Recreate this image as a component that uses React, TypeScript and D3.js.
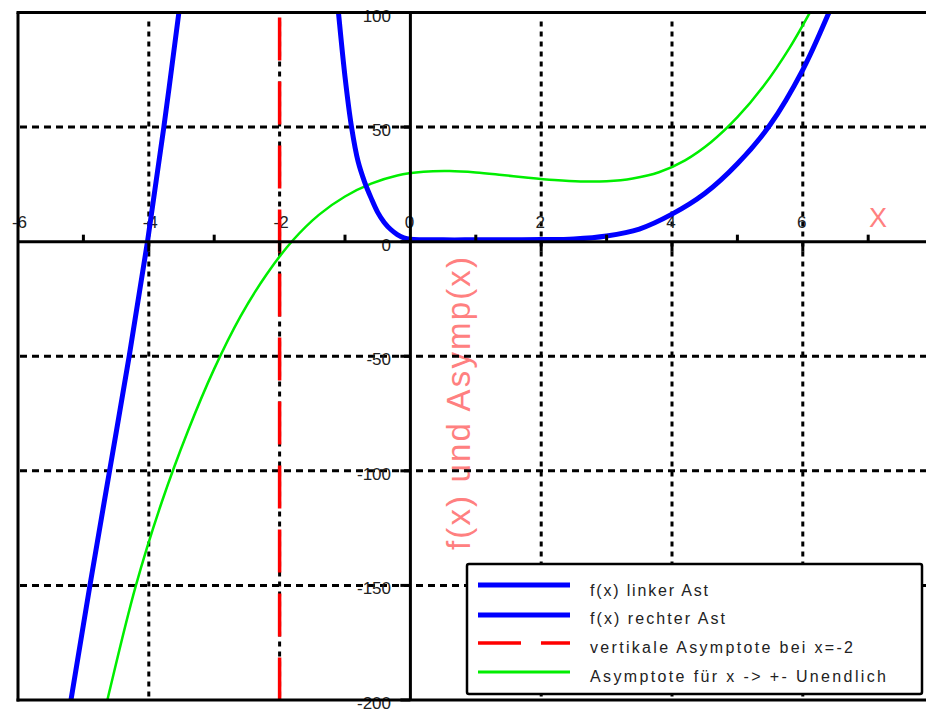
import React from 'react';
import * as d3 from 'd3';

// f(x), linker Ast (links der Polstelle x=-2)
const leftBranchX = [-5.32, -5.19, -4.9, -4.6, -4.3, -4.02, -3.77, -3.54, -3.44];
const leftBranchY = [-222, -200, -150, -100, -50, 0, 50, 100, 122];

// f(x), rechter Ast
const rightBranchX = [-1.15, -1.1, -1.0, -0.9, -0.8, -0.7, -0.6, -0.5, -0.4, -0.3, -0.2, -0.1, 0, 0.5, 1.0, 1.5, 2.0, 2.5, 3.0, 3.5, 4.0, 4.5, 5.0, 5.5, 6.0, 6.4, 6.6];
const rightBranchY = [115, 100, 72, 50, 35, 26, 19, 12.8, 8.4, 5.3, 3.1, 1.7, 1.1, 0.8, 0.8, 0.8, 0.9, 1.2, 2.5, 5.5, 12, 21, 34, 51, 75, 100, 114];

// Asymptote fuer x -> +- unendlich
const asymX = [-4.8, -4.6, -4.2, -3.8, -3.4, -3.0, -2.6, -2.2, -1.8, -1.4, -1.0, -0.6, -0.2, 0.2, 0.6, 1.0, 1.4, 1.8, 2.2, 2.6, 3.0, 3.4, 3.8, 4.2, 4.6, 5.0, 5.4, 5.8, 6.2, 6.4];
const asymY = [-221, -196, -150.3, -113.5, -82.5, -55.5, -32.7, -14.3, 0.5, 11.7, 19.7, 25.3, 28.9, 30.5, 30.8, 30.2, 29.1, 27.9, 26.9, 26.3, 26.4, 27.6, 30.3, 35.5, 43.5, 54.3, 67.9, 84.7, 104.7, 115];

const poleX = -2;

const xTicksMajor = [-6, -4, -2, 0, 2, 4, 6];
const xTicksMinor = [-5, -3, -1, 1, 3, 5, 7];
const xGrid = [-4, -2, 2, 4, 6];
const yTicks = [100, 50, 0, -50, -100, -150, -200];
const yGrid = [50, -50, -100, -150];

const legendLabels = [
  'f(x) linker Ast',
  'f(x) rechter Ast',
  'vertikale Asymptote bei x=-2',
  'Asymptote für x -> +- Unendlich',
];
const legendWidths = [118, 135, 263, 296];

const W = 926;
const H = 711;
const FONT = 'Liberation Sans, Arial, sans-serif';

export default function App() {
  const x = d3.scaleLinear().domain([-6, 8]).range([18, 933.6]);
  const y = d3.scaleLinear().domain([-200, 100]).range([700, 12.5]);

  const line = d3
    .line<[number, number]>()
    .x((d) => x(d[0]))
    .y((d) => y(d[1]))
    .curve(d3.curveCatmullRom.alpha(0.5));

  const zip = (xs: number[], ys: number[]) => xs.map((v, i) => [v, ys[i]] as [number, number]);

  const left = x(-6);
  const top = y(100);
  const bottom = y(-200);
  const x0 = x(0);
  const y0 = y(0);

  const legendColors = ['#0000ff', '#0000ff', '#ff0000', '#00ee00'];
  const legendStroke = [5, 5, 3.5, 3];
  const legendLineY = [585, 615, 643, 672];
  const legendTextY = [596, 624, 653, 682];

  return (
    <svg width={W} height={H} style={{ position: 'fixed', left: 0, top: 0, background: '#fff' }} fontFamily={FONT}>
      <defs>
        <clipPath id="plot">
          <rect x={left} y={top} width={W - left} height={bottom - top} />
        </clipPath>
      </defs>

      {/* axis titles (under the grid) */}
      <text x={878} y={227} fontSize={27} fill="#ff8080" textAnchor="middle">X</text>
      <text
        transform={`translate(470, 403.5) rotate(-90)`}
        fontSize={33}
        fill="#ff8080"
        textAnchor="middle"
        textLength={293}
        lengthAdjust="spacing"
      >
        {'f(x)  und  Asymp(x)'}
      </text>

      {/* grid */}
      {yGrid.map((v) => (
        <line key={'hy' + v} x1={left + 2} x2={W} y1={y(v)} y2={y(v)} stroke="#000" strokeWidth={3} strokeDasharray="7,5" />
      ))}
      {xGrid.map((v) => (
        <line key={'vx' + v} x1={x(v)} x2={x(v)} y1={top + 9} y2={bottom} stroke="#000" strokeWidth={3} strokeDasharray="5,5" />
      ))}

      {/* tick labels */}
      {xTicksMajor.map((v) => (
        <text
          key={'xl' + v}
          x={v < 0 ? x(v) + 9 : x(v) - 1}
          y={228}
          fontSize={17}
          fill="#222"
          textAnchor={v < 0 ? 'end' : 'middle'}
        >
          {String(v)}
        </text>
      ))}
      {yTicks.map((v) => (
        <text key={'yl' + v} x={391} y={y(v) + 9} fontSize={17} fill="#222" textAnchor="end">
          {String(v)}
        </text>
      ))}

      {/* curves */}
      <g clipPath="url(#plot)">
        <path d={line(zip(asymX, asymY)) || ''} fill="none" stroke="#00ee00" strokeWidth={2.5} />
        <line x1={x(poleX)} x2={x(poleX)} y1={top + 5} y2={bottom} stroke="#ff0000" strokeWidth={3.5} strokeDasharray="43,21" />
        <path d={line(zip(leftBranchX, leftBranchY)) || ''} fill="none" stroke="#0000ff" strokeWidth={5} />
        <path d={line(zip(rightBranchX, rightBranchY)) || ''} fill="none" stroke="#0000ff" strokeWidth={5} />
      </g>

      {/* frame and axes */}
      <line x1={left - 1.5} x2={W} y1={top} y2={top} stroke="#000" strokeWidth={3} />
      <line x1={left} x2={left} y1={top} y2={bottom + 1.5} stroke="#000" strokeWidth={3} />
      <line x1={left - 1.5} x2={W} y1={bottom} y2={bottom} stroke="#000" strokeWidth={3} />
      <line x1={left} x2={W} y1={y0} y2={y0} stroke="#000" strokeWidth={3} />
      <line x1={x0} x2={x0} y1={top} y2={bottom} stroke="#000" strokeWidth={3} />

      {/* ticks */}
      {xTicksMinor.map((v) => (
        <line key={'mt' + v} x1={x(v)} x2={x(v)} y1={y0} y2={y0 - 7} stroke="#000" strokeWidth={3} />
      ))}
      {xTicksMajor.filter((v) => v !== 0 && v !== -6).map((v) => (
        <line key={'Mt' + v} x1={x(v)} x2={x(v)} y1={y0} y2={y0 + 10} stroke="#000" strokeWidth={3} />
      ))}
      {yTicks.map((v) => (
        <line key={'yt' + v} x1={x0 - 10} x2={x0} y1={y(v)} y2={y(v)} stroke="#000" strokeWidth={3} />
      ))}

      {/* legend */}
      <rect x={467} y={564} width={455} height={130} rx={2} fill="#fff" stroke="#000" strokeWidth={2.5} />
      {legendLabels.map((label, i) => (
        <g key={label}>
          <line
            x1={478}
            x2={570}
            y1={legendLineY[i]}
            y2={legendLineY[i]}
            stroke={legendColors[i]}
            strokeWidth={legendStroke[i]}
            strokeDasharray={i === 2 ? '43,20' : undefined}
          />
          <text
            x={590}
            y={legendTextY[i]}
            fontSize={16}
            fill="#222"
            textLength={legendWidths[i]}
            lengthAdjust="spacing"
          >
            {label}
          </text>
        </g>
      ))}
    </svg>
  );
}
